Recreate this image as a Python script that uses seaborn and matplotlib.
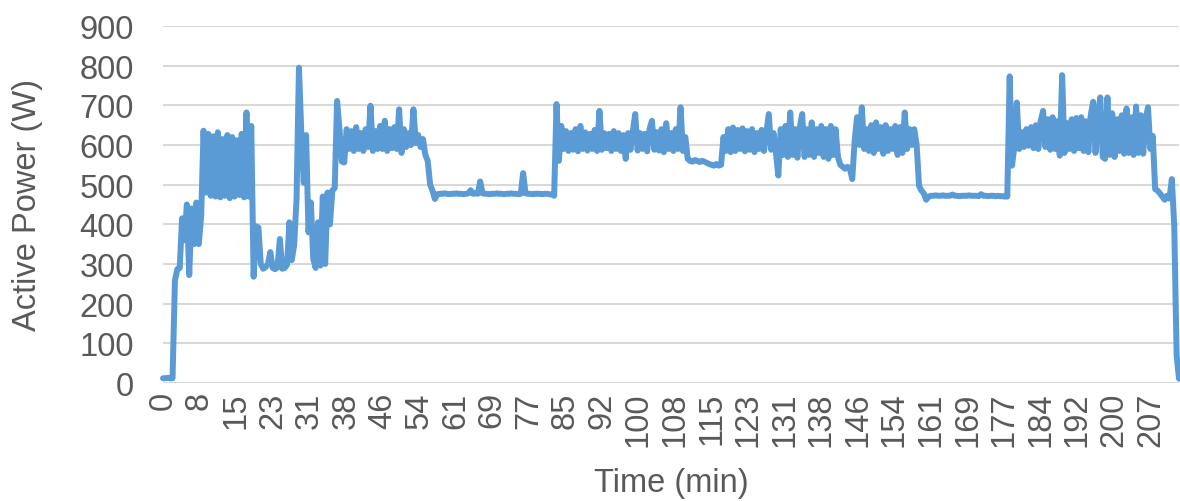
import numpy as np
import pandas as pd
import matplotlib
matplotlib.use("Agg")
import matplotlib.pyplot as plt
import seaborn as sns

# ---- data (active power, W, sampled every 0.5 min) ----
sample_step_min = 0.5
seg_startup = [12, 12, 13, 12, 12, 258, 287, 290, 415, 360, 450, 272, 440, 350, 455, 350, 420, 636]
seg_block1 = [480, 628, 472, 622, 470, 632, 468, 615, 472, 625, 466, 620, 470, 612, 474, 628, 468, 682, 470, 648]
seg_low = [268, 395, 392, 300, 288, 292, 300, 330, 290, 287, 292, 363, 288, 290, 298, 405, 310, 348, 465, 795,
           630, 505, 625, 380, 455, 313, 290, 405, 296, 470, 300, 480, 400, 485, 492, 711, 640, 558, 556]
seg_band1 = [640, 590, 635, 585, 645, 590, 630, 585, 640, 595, 699, 585, 635, 590, 648, 590, 661, 585, 640, 592,
             645, 590, 690, 580, 640, 595, 630, 600, 690, 605, 625, 595, 615, 575]
seg_drop1 = [560, 500, 485, 464, 476]
seg_flat1 = [477, 477, 478, 477, 476, 477, 477, 478, 477, 477, 476, 477, 478,
             486, 477, 478, 477, 508,
             478, 477, 477, 476, 477, 477, 478, 477, 477, 476, 477, 477, 478, 477, 477, 476, 477,
             529,
             478, 477, 477, 476, 477, 477, 477, 476, 477, 477, 476, 475, 472]
seg_rise2 = [703, 560, 648]
seg_band2 = [590, 635, 585, 630, 588, 640, 584, 648, 590, 632, 586, 628, 590, 638, 585, 686, 588, 630, 592, 628,
             585, 635, 590, 630, 585, 625, 565, 630, 588, 635, 678, 586, 630, 590, 628, 584, 640, 661, 588, 632,
             586, 640, 582, 655, 590, 630, 585, 640, 590, 695, 585]
seg_mid = [620, 565, 560, 558, 562, 560, 557, 560, 558, 555, 552, 550, 548, 552, 548, 550, 620]
seg_band3 = [585, 640, 582, 644, 585, 638, 590, 642, 584, 635, 588, 640, 582, 630, 590, 638, 585, 632, 678, 588,
             630, 580, 523]
seg_band4 = [640, 575, 648, 570, 682, 575, 640, 568, 645, 678, 570, 640, 575, 657, 570, 640, 580, 648, 570, 640,
             565, 648, 575, 640, 570]
seg_dip = [550, 545, 540, 545, 540, 514, 610, 670, 600, 695]
seg_band5 = [590, 640, 585, 650, 580, 657, 590, 645, 578, 650, 585, 640, 590, 648, 575, 645, 580, 682, 590, 640,
             600, 640]
seg_drop2 = [600, 497, 485, 478, 462, 470]
seg_flat2 = [472, 472, 473, 472, 472, 473, 472, 472, 472, 475, 472, 472, 471, 472, 472, 472, 473, 472, 472, 472,
             471, 476, 472, 472, 471, 472, 472, 471, 472, 471, 471, 470, 470]
seg_rise3 = [773, 548, 598, 707, 590]
seg_band6 = [632, 595, 640, 598, 645, 592, 650, 590, 660, 686, 595, 665, 588, 670, 590, 660, 573, 776, 580, 655,
             590, 665, 585, 668, 592, 670, 585, 660, 582, 675, 709, 580, 672, 720, 570, 565, 720, 575, 680, 570,
             665, 585, 675, 578, 692, 580, 670, 575, 697, 580, 675, 578, 665, 695, 590, 623]
seg_end = [489, 485, 478, 470, 462, 472, 465, 514, 397, 70, 11]

tick_labels = ["0", "8", "15", "23", "31", "38", "46", "54", "61", "69", "77", "85", "92", "100",
               "108", "115", "123", "131", "138", "146", "154", "161", "169", "177", "184", "192", "200", "207"]
last_tick_min = 207.0

power = (seg_startup + seg_block1 + seg_low + seg_band1 + seg_drop1 + seg_flat1 + seg_rise2 + seg_band2 +
         seg_mid + seg_band3 + seg_band4 + seg_dip + seg_band5 + seg_drop2 + seg_flat2 + seg_rise3 +
         seg_band6 + seg_end)
time_min = np.arange(len(power)) * sample_step_min
df = pd.DataFrame({"Time (min)": time_min, "Active Power (W)": power})

# ---- style ----
sns.set_theme(style="white")
plt.rcParams["font.family"] = ["Liberation Sans", "DejaVu Sans"]
text_color = "#595959"
fs = 23.5

fig = plt.figure(figsize=(11.8, 5.02), dpi=100)
ax = fig.add_axes([163 / 1180, 1 - 384 / 502, (1179 - 163) / 1180, (384 - 27) / 502])

ax.yaxis.grid(True, color="#D9D9D9", linewidth=1.5, zorder=0)
ax.xaxis.grid(False)
ax.set_axisbelow(True)

sns.lineplot(data=df, x="Time (min)", y="Active Power (W)", ax=ax, estimator=None, sort=False,
             color="#5B9BD5", linewidth=4.3, solid_joinstyle="round", solid_capstyle="round",
             clip_on=False, zorder=3)

ax.set_xlim(0, time_min[-1])
ax.set_ylim(0, 900)
ax.set_yticks(np.arange(0, 901, 100))
ax.set_yticklabels([str(v) for v in range(0, 901, 100)])
tick_pos = np.arange(len(tick_labels)) * (last_tick_min / (len(tick_labels) - 1))
ax.set_xticks(tick_pos)
ax.set_xticklabels(tick_labels, rotation=90)

for s in ax.spines.values():
    s.set_visible(False)

ax.tick_params(axis="y", length=0, pad=21, labelsize=fs, labelcolor=text_color)
ax.tick_params(axis="x", length=0, pad=6, labelsize=fs, labelcolor=text_color)

ax.set_xlabel("Time (min)", fontsize=fs, color=text_color, labelpad=15)
ax.set_ylabel("Active Power (W)", fontsize=fs, color=text_color, labelpad=26)

fig.savefig("out.png", dpi=100, facecolor="white")
